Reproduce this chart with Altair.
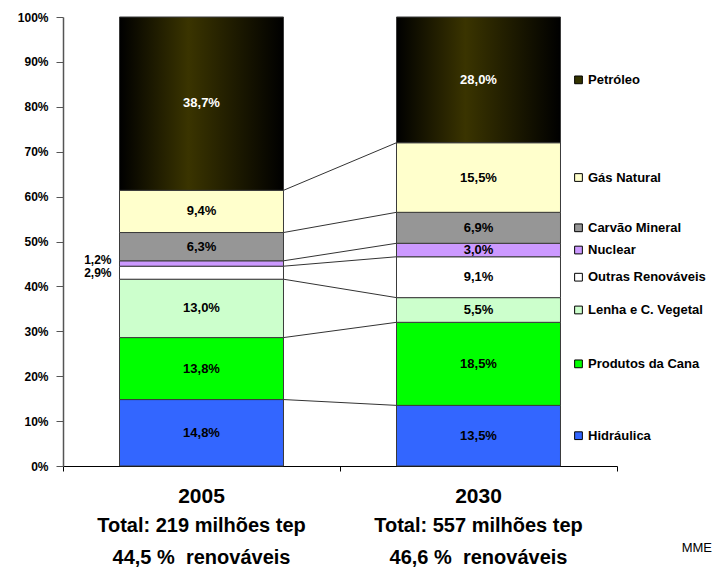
import altair as alt
import pandas as pd

# ---------------- data ----------------
sources = ["Hidráulica", "Produtos da Cana", "Lenha e C. Vegetal", "Outras Renováveis",
           "Nuclear", "Carvão Mineral", "Gás Natural", "Petróleo"]
colors = ["#3366FF", "#00FF00", "#CCFFCC", "#FFFFFF", "#CC99FF", "#969696", "#FFFFCC", "#333300"]
years = ["2005", "2030"]
share_2005 = [14.8, 13.8, 13.0, 2.9, 1.2, 6.3, 9.4, 38.7]
share_2030 = [13.5, 18.5, 5.5, 9.1, 3.0, 6.9, 15.5, 28.0]
totals = ["Total: 219 milhões tep", "Total: 557 milhões tep"]
renew = ["44,5 %\u00a0 renováveis", "46,6 %\u00a0 renováveis"]
outside_2005 = ["Nuclear", "Outras Renováveis"]   # labelled beside the 2005 bar
source_note = "MME"

# ---------------- layout constants ----------------
HALF = 0.296           # half bar width in x units (band = 1)
BOLD = "Liberation Sans"


def fmt(v):
    return f"{v:.1f}".replace(".", ",") + "%"


rows = []
cums = []
for i, (yr, vals) in enumerate(zip(years, [share_2005, share_2030])):
    c = i + 0.5
    cum = 0.0
    bounds = []
    for s, v, col in zip(sources, vals, colors):
        rows.append(dict(year=yr, source=s, x=c - HALF, x2=c + HALF, xc=c,
                         y0=cum, y1=cum + v, mid=cum + v / 2, label=fmt(v),
                         tcolor="white" if s == "Petróleo" else "black",
                         inside=not (i == 0 and s in outside_2005)))
        cum += v
        bounds.append(cum)
    cums.append(bounds)
df = pd.DataFrame(rows)

conn = pd.DataFrame({
    "xa": [0.5 + HALF] * (len(sources) - 1),
    "xb": [1.5 - HALF] * (len(sources) - 1),
    "ya": cums[0][:-1],
    "yb": cums[1][:-1],
})

legend_df = df[df.year == "2030"][["source", "mid"]].copy()
legend_df["color"] = colors

bottom = pd.DataFrame({"xc": [0.5, 1.5], "year": years, "total": totals, "renew": renew})

# ---------------- scales / axes ----------------
xscale = alt.Scale(domain=[0, 2], nice=False, zero=False)
yscale = alt.Scale(domain=[0, 100], nice=False, clamp=True)
xaxis = alt.Axis(values=[0, 1, 2], labels=False, tickSize=5, domainColor="black",
                 tickColor="black", grid=False, title=None)
yaxis = alt.Axis(values=list(range(0, 101, 10)), labelExpr="datum.value + '%'",
                 tickSize=7, labelPadding=8, domainColor="#555555", domainWidth=1.5,
                 tickColor="#555555", labelFont=BOLD, labelFontWeight="bold",
                 labelFontSize=12, labelColor="black", grid=False, title=None)

base = alt.Chart(df)

bars = base.transform_filter("datum.source != 'Petróleo'").mark_rect(
    stroke="#3a3a3a", strokeWidth=1
).encode(
    x=alt.X("x:Q", scale=xscale, axis=xaxis),
    x2="x2:Q",
    y=alt.Y("y0:Q", scale=yscale, axis=yaxis),
    y2="y1:Q",
    fill=alt.Fill("source:N", scale=alt.Scale(domain=sources, range=colors), legend=None),
)

petro = base.transform_filter("datum.source == 'Petróleo'").mark_rect(
    stroke="#3a3a3a", strokeWidth=1,
    fill=alt.Gradient(gradient="linear", x1=0, x2=1, y1=0, y2=0,
                      stops=[alt.GradientStop(color="#000000", offset=0),
                             alt.GradientStop(color="#3a3400", offset=0.42),
                             alt.GradientStop(color="#000000", offset=1)])
).encode(
    x=alt.X("x:Q", scale=xscale, axis=xaxis),
    x2="x2:Q",
    y=alt.Y("y0:Q", scale=yscale, axis=yaxis),
    y2="y1:Q",
)

connectors = alt.Chart(conn).mark_rule(color="#333333", strokeWidth=1).encode(
    x=alt.X("xa:Q", scale=xscale, axis=xaxis),
    x2="xb:Q",
    y=alt.Y("ya:Q", scale=yscale, axis=yaxis),
    y2="yb:Q",
)

inner = base.transform_filter("datum.inside").mark_text(
    font=BOLD, fontWeight="bold", fontSize=13, baseline="middle"
).encode(
    x=alt.X("xc:Q", scale=xscale, axis=xaxis),
    y=alt.Y("mid:Q", scale=yscale, axis=yaxis),
    text="label:N",
    color=alt.Color("tcolor:N", scale=None),
)

side_nuc = base.transform_filter("!datum.inside && datum.source == 'Nuclear'").mark_text(
    font=BOLD, fontWeight="bold", fontSize=12, baseline="middle", align="right", dx=-8, dy=-4
).encode(
    x=alt.X("x:Q", scale=xscale, axis=xaxis),
    y=alt.Y("mid:Q", scale=yscale, axis=yaxis),
    text="label:N",
)
side_out = base.transform_filter("!datum.inside && datum.source != 'Nuclear'").mark_text(
    font=BOLD, fontWeight="bold", fontSize=12, baseline="middle", align="right", dx=-8, dy=0
).encode(
    x=alt.X("x:Q", scale=xscale, axis=xaxis),
    y=alt.Y("mid:Q", scale=yscale, axis=yaxis),
    text="label:N",
)

leg_sq = alt.Chart(legend_df).mark_square(size=60, stroke="black", strokeWidth=1, opacity=1).encode(
    x=alt.value(515.5),
    y=alt.Y("mid:Q", scale=yscale, axis=yaxis),
    fill=alt.Fill("color:N", scale=None),
)
leg_tx = alt.Chart(legend_df).mark_text(
    font=BOLD, fontWeight="bold", fontSize=13, align="left", baseline="middle", color="black"
).encode(
    x=alt.value(525),
    y=alt.Y("mid:Q", scale=yscale, axis=yaxis),
    text="source:N",
)

b = alt.Chart(bottom)
yr_tx = b.mark_text(font=BOLD, fontWeight="bold", fontSize=21, baseline="alphabetic").encode(
    x=alt.X("xc:Q", scale=xscale, axis=xaxis), y=alt.value(486), text="year:N")
tot_tx = b.mark_text(font=BOLD, fontWeight="bold", fontSize=20, baseline="alphabetic").encode(
    x=alt.X("xc:Q", scale=xscale, axis=xaxis), y=alt.value(515), text="total:N")
ren_tx = b.mark_text(font=BOLD, fontWeight="bold", fontSize=20, baseline="alphabetic").encode(
    x=alt.X("xc:Q", scale=xscale, axis=xaxis), y=alt.value(547), text="renew:N")

mme = alt.Chart(pd.DataFrame({"t": [source_note]})).mark_text(
    font=BOLD, fontSize=13, align="right", baseline="alphabetic", color="black"
).encode(x=alt.value(649), y=alt.value(535), text="t:N")

chart = alt.layer(
    bars, petro, connectors, inner, side_nuc, side_out, leg_sq, leg_tx,
    yr_tx, tot_tx, ren_tx, mme
).properties(
    width=554, height=449,
    autosize=alt.AutoSizeParams(type="none"),
    padding={"left": 63, "top": 17, "right": 97, "bottom": 111},
    background="white",
).configure_view(stroke=None)

chart.save("out.html", embed_options={"renderer": "svg", "actions": False})
